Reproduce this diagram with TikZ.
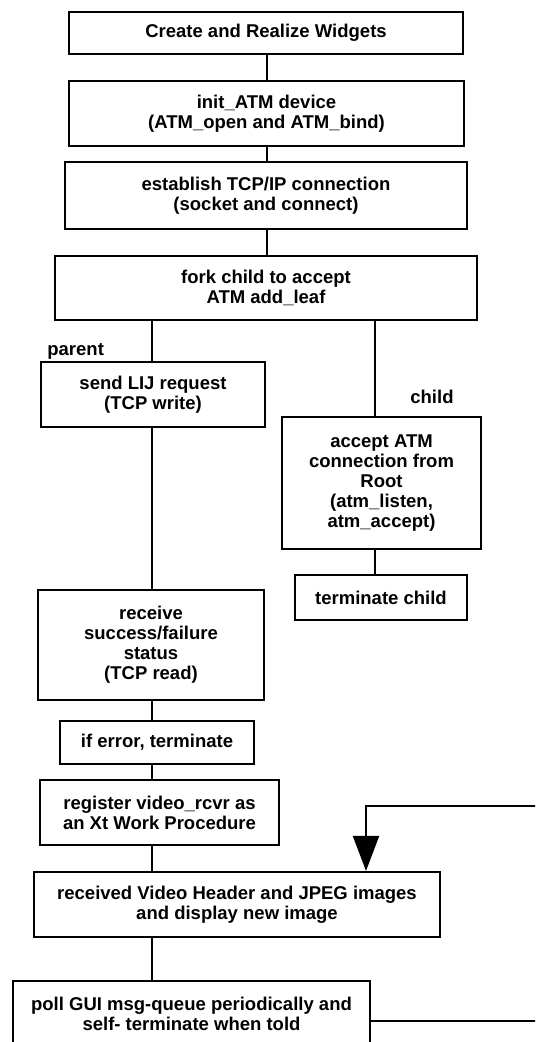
\documentclass[tikz,border=0pt]{standalone}
\usepackage{fontspec}
\setmainfont{Liberation Sans}
\usetikzlibrary{arrows.meta}

\begin{document}
\begin{tikzpicture}[x=0.5pt,y=-0.5pt,
    blk/.style 2 args={draw,line width=1.1pt,inner sep=0pt,align=center,
      minimum width=0.5pt*#1,minimum height=0.5pt*#2},
    lbl/.style={inner sep=0pt,anchor=base west},
    wire/.style={line width=1.1pt},
    font=\fontsize{9.25pt}{10pt}\selectfont\bfseries]
  \useasboundingbox (0,0) rectangle (535,1042);
  \clip (0,0) rectangle (535,1042);

  % setup steps
  \node[blk={394}{42}]  (Widgets)   at (266,33)      {Create and Realize Widgets};
  \node[blk={395}{65}]  (InitATM)   at (266.5,113.5) {init\_ATM device\\(ATM\_open and ATM\_bind)};
  \node[blk={402}{67}]  (TcpConn)   at (266,195.5)   {establish TCP/IP connection\\(socket and connect)};
  \node[blk={422}{64}]  (Fork)      at (266,288)     {fork child to accept\\ATM add\_leaf};
  % parent branch
  \node[blk={224}{65}]  (SendLij)   at (153,394.5)   {send LIJ request\\(TCP write)};
  \node[blk={226}{110}] (Status)    at (151,645)     {receive\\success/failure\\status\\(TCP read)};
  \node[blk={194}{43}]  (IfError)   at (157,742.5)   {if error, terminate};
  \node[blk={239}{65}]  (Register)  at (159.5,812.5) {register video\_rcvr as\\an Xt Work Procedure};
  \node[blk={406}{65}]  (Display)   at (237,904.5)   {received Video Header and JPEG images\\and display new image};
  \node[blk={357}{66}]  (Poll)      at (191.5,1014)  {poll GUI msg-queue periodically and\\self- terminate when told};
  % child branch
  \node[blk={199}{132}] (Accept)    at (381.5,483)   {accept ATM\\connection from\\Root\\(atm\_listen,\\atm\_accept)};
  \node[blk={172}{45}]  (KillChild) at (381,597.5)   {terminate child};

  \node[lbl] (ParentLbl) at (47,356)  {parent};
  \node[lbl] (ChildLbl)  at (410,403) {child};

  \coordinate (midX)    at (267,0);
  \coordinate (leftX)   at (152,0);
  \coordinate (rightX)  at (375,0);
  \coordinate (loopX)   at (366,0);
  \coordinate (loopTop) at (560,806);

  \draw[wire] (Widgets.south -| midX)  -- (InitATM.north -| midX);
  \draw[wire] (InitATM.south -| midX)  -- (TcpConn.north -| midX);
  \draw[wire] (TcpConn.south -| midX)  -- (Fork.north -| midX);
  \draw[wire] (Fork.south -| leftX)    -- (SendLij.north -| leftX);
  \draw[wire] (Fork.south -| rightX)   -- (Accept.north -| rightX);
  \draw[wire] (Accept.south -| rightX) -- (KillChild.north -| rightX);
  \draw[wire] (SendLij.south -| leftX) -- (Status.north -| leftX);
  \draw[wire] (Status.south -| leftX)  -- (IfError.north -| leftX);
  \draw[wire] (IfError.south -| leftX) -- (Register.north -| leftX);
  \draw[wire] (Register.south -| leftX) -- (Display.north -| leftX);
  \draw[wire] (Display.south -| leftX) -- (Poll.north -| leftX);

  % loop back from polling to the next frame
  \draw[wire,-{Triangle[width=13pt,length=17.5pt]}]
    ([yshift=-3.5pt]Poll.east) -| (loopTop) -| (Display.north -| loopX);
\end{tikzpicture}
\end{document}
